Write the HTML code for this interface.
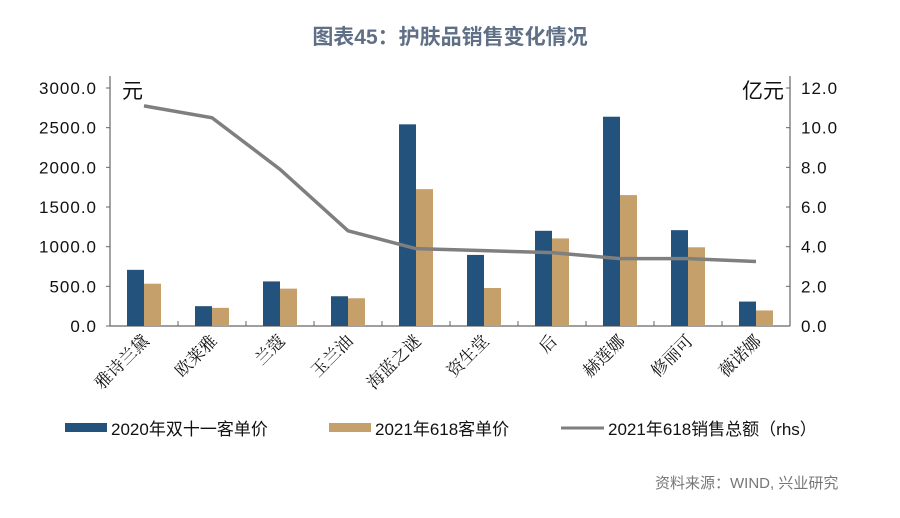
<!DOCTYPE html>
<html><head><meta charset="utf-8"><style>
body{margin:0;background:#fff;width:900px;height:513px;overflow:hidden}
svg text{font-family:"Liberation Sans","Noto Sans CJK SC",sans-serif}
</style></head><body>
<svg id="chart" width="900" height="513" viewBox="0 0 900 513" xmlns="http://www.w3.org/2000/svg">
<text x="450" y="44" text-anchor="middle" font-size="21" font-weight="bold" fill="#5f6f86">图表45：护肤品销售变化情况</text>
<g id="axes"></g>
<g id="bars"></g>
<g id="line"></g>
<g id="labels"></g>
<g>
<rect x="65" y="423" width="42" height="9" fill="#23527c"/>
<text x="111" y="435" font-size="17" fill="#111">2020年双十一客单价</text>
<rect x="329" y="423" width="42" height="9" fill="#c5a06a"/>
<text x="375" y="435" font-size="17" fill="#111">2021年618客单价</text>
<line x1="561" y1="428" x2="604" y2="428" stroke="#7f7f7f" stroke-width="3"/>
<text x="608" y="435" font-size="17" fill="#111">2021年618销售总额（rhs）</text>
</g>
<text x="655" y="488" font-size="15" fill="#777">资料来源：WIND, 兴业研究</text>
</svg>
<script>
const categories=["雅诗兰黛","欧莱雅","兰蔻","玉兰油","海蓝之谜","资生堂","后","赫莲娜","修丽可","薇诺娜"];
const price2020=[708,250,562,375,2542,896,1200,2638,1208,308];
const price2021=[533,229,471,350,1725,479,1104,1650,992,196];
const sales618=[11.1,10.5,7.9,4.8,3.9,3.8,3.7,3.4,3.4,3.25];
const leftTicks=["0.0","500.0","1000.0","1500.0","2000.0","2500.0","3000.0"];
const rightTicks=["0.0","2.0","4.0","6.0","8.0","10.0","12.0"];
const NS="http://www.w3.org/2000/svg";
const X0=110,X1=790,Y0=326,Y1=88;
const cw=(X1-X0)/categories.length;
const yL=v=>Y0-(v/3000)*(Y0-Y1);
const yR=v=>Y0-(v/12)*(Y0-Y1);
const xC=i=>X0+cw*(i+0.5);
function mk(tag,attrs,parent){const e=document.createElementNS(NS,tag);for(const k in attrs)e.setAttribute(k,attrs[k]);parent.appendChild(e);return e;}
const axes=document.getElementById('axes');
let a=mk('line',{x1:X0,y1:Y1-12,x2:X0,y2:Y0,stroke:'#666','stroke-width':1.2},axes);


a=mk('line',{x1:X1,y1:Y1-12,x2:X1,y2:Y0,stroke:'#666','stroke-width':1.2},axes);


a=mk('line',{x1:X0,y1:Y0,x2:X1,y2:Y0,stroke:'#666','stroke-width':1.2},axes);


leftTicks.forEach((t,i)=>{const y=yL(i*500);
 mk('line',{x1:X0-4,y1:y,x2:X0,y2:y,stroke:'#666'},axes);
 const tx=mk('text',{x:97,y:y+6,'text-anchor':'end','font-size':17,'letter-spacing':1,fill:'#111'},axes);tx.textContent=t;
 
 });
rightTicks.forEach((t,i)=>{const y=yR(i*2);
 mk('line',{x1:X1-4,y1:y,x2:X1,y2:y,stroke:'#666'},axes);
 const tx=mk('text',{x:801,y:y+6,'font-size':17,'letter-spacing':1,fill:'#111'},axes);tx.textContent=t;
 
 });
for(let i=1;i<categories.length;i++){mk('line',{x1:X0+cw*i,y1:Y0-5,x2:X0+cw*i,y2:Y0,stroke:'#666'},axes);}
let u=mk('text',{x:122,y:98,'font-size':21,fill:'#111'},axes);u.textContent='元';


u=mk('text',{x:784,y:98,'text-anchor':'end','font-size':21,fill:'#111'},axes);u.textContent='亿元';


const bars=document.getElementById('bars');const bw=17;
categories.forEach((c,i)=>{
 const b1=mk('rect',{x:xC(i)-bw,y:yL(price2020[i]),width:bw,height:Y0-yL(price2020[i]),fill:'#23527c'},bars);
 
 
 const b2=mk('rect',{x:xC(i),y:yL(price2021[i]),width:bw,height:Y0-yL(price2021[i]),fill:'#c5a06a'},bars);
 
 
 const lb=mk('text',{transform:`translate(${xC(i)+6},${Y0+16}) rotate(-45)`,'text-anchor':'end','font-size':17,fill:'#111',style:'font-family:"Liberation Serif","Noto Serif CJK SC",serif'},document.getElementById('labels'));
 lb.textContent=c;
 
 
});
const pl=mk('polyline',{points:sales618.map((v,i)=>xC(i)+','+yR(v)).join(' '),fill:'none',stroke:'#7f7f7f','stroke-width':3.5},document.getElementById('line'));


</script>
</body></html>
